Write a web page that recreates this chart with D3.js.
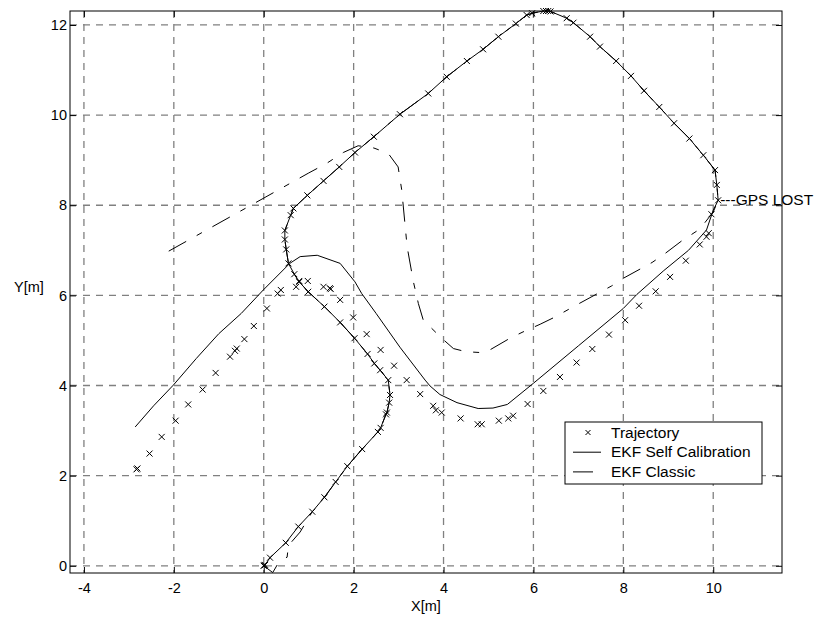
<!DOCTYPE html>
<html>
<head>
<meta charset="utf-8">
<script src="https://cdn.jsdelivr.net/npm/d3@7"></script>
<style>
  body { margin: 0; background: #fff; }
  text { font-family: "Liberation Sans", Arial, sans-serif; }
</style>
</head>
<body>
<div id="chart"></div>
<script>
(() => {

    ////////////////////////////////////
    ////////////// data ////////////////
    ////////////////////////////////////

    // measured positions [x, y] in metres, from the start (0,0) up to the point where GPS is lost
    const trajectoryBefore = [
        [0, 0], [0.01, 0.01], [0.03, 0.02], [0.14, 0.18], [0.49, 0.51], [0.77, 0.87], [1.08, 1.2],
        [1.35, 1.52], [1.6, 1.86], [1.86, 2.21], [2.19, 2.59], [2.54, 2.97], [2.6, 3.06],
        [2.72, 3.36], [2.74, 3.4], [2.79, 3.62], [2.81, 3.79], [2.77, 4.12],
        [2.59, 4.34], [2.46, 4.49], [2.31, 4.7], [2.02, 5.05], [1.7, 5.4], [1.35, 5.75],
        [0.99, 6.08], [0.79, 6.3], [0.68, 6.47], [0.55, 6.71], [0.5, 7.02], [0.47, 7.24],
        [0.47, 7.44], [0.6, 7.78], [0.66, 7.93],
        [0.97, 8.22], [1.33, 8.54], [1.68, 8.85], [2.03, 9.17], [2.45, 9.52], [3.03, 10.02],
        [3.66, 10.48], [4.07, 10.85], [4.52, 11.2], [4.88, 11.46], [5.22, 11.74], [5.61, 12.03],
        [5.85, 12.22], [5.97, 12.26], [6.22, 12.31], [6.28, 12.31], [6.33, 12.31], [6.38, 12.3],
        [6.74, 12.15], [6.89, 12.05], [7.26, 11.74], [7.48, 11.52], [7.84, 11.2], [8.17, 10.87],
        [8.46, 10.54], [8.8, 10.18], [9.13, 9.82], [9.47, 9.48], [9.78, 9.11], [10.04, 8.78],
        [10.08, 8.45], [10.11, 8.11]
    ]

    // measured positions after GPS is lost
    const trajectoryAfter = [
        [9.96, 7.8], [9.9, 7.38], [9.85, 7.3], [9.7, 7.13], [9.39, 6.77], [9.04, 6.41],
        [8.72, 6.09], [8.35, 5.77], [8.04, 5.45], [7.68, 5.13], [7.31, 4.81], [6.96, 4.51],
        [6.59, 4.19], [6.22, 3.88], [5.87, 3.59], [5.55, 3.33], [5.44, 3.27], [5.23, 3.22],
        [4.85, 3.14], [4.76, 3.14], [4.38, 3.27], [3.96, 3.4], [3.83, 3.45], [3.77, 3.55],
        [3.48, 3.81], [3.18, 4.12], [2.9, 4.44], [2.6, 4.79], [2.29, 5.14], [1.99, 5.51],
        [1.7, 5.9], [1.49, 6.14], [1.47, 6.16], [1.33, 6.19], [0.98, 6.32], [0.79, 6.32],
        [0.72, 6.19], [0.38, 6.12], [0.31, 6.04], [0.07, 5.71], [-0.22, 5.32], [-0.43, 5.03],
        [-0.6, 4.82], [-0.64, 4.77], [-0.75, 4.64], [-1.07, 4.28], [-1.36, 3.91], [-1.68, 3.58],
        [-1.96, 3.22], [-2.27, 2.86], [-2.54, 2.49], [-2.83, 2.14], [-2.81, 2.16]
    ]

    // EKF with self calibration, after GPS is lost
    const selfCalAfter = [
        [10.0, 7.89], [9.85, 7.45], [9.45, 7.0], [8.9, 6.55], [8.3, 6.02], [8.0, 5.71],
        [7.0, 4.88], [6.0, 4.05], [5.42, 3.58], [5.1, 3.5], [4.77, 3.49], [4.3, 3.62],
        [3.92, 3.8], [3.7, 3.99], [3.59, 4.12], [3.03, 4.85], [2.5, 5.6], [2.18, 6.04],
        [2.03, 6.3], [1.7, 6.71], [1.19, 6.89], [0.81, 6.86], [0.58, 6.71], [-0.01, 6.12],
        [-0.5, 5.6], [-1.0, 5.15], [-1.5, 4.6], [-2.01, 4.01], [-2.45, 3.55], [-2.86, 3.08]
    ]

    // classic EKF: short wobble at the start, then after GPS is lost
    const classicStart = [
        [0, 0], [0.2, -0.15], [0.36, 0.12], [0.52, 0.19], [0.55, 0.45], [0.81, 0.75]
    ]
    const classicAfter = [
        [10.0, 7.85], [9.7, 7.47], [9.3, 7.21], [8.93, 6.93], [8.64, 6.73], [8.0, 6.38],
        [7.74, 6.21], [6.89, 5.75], [6.48, 5.52], [6.15, 5.36], [5.77, 5.19], [5.48, 5.05],
        [5.03, 4.79], [4.85, 4.73], [4.5, 4.75], [4.22, 4.82], [3.96, 5.05], [3.55, 5.45],
        [3.44, 5.82], [3.33, 6.3], [3.19, 7.08], [3.07, 8.34], [2.99, 8.85], [2.77, 9.15],
        [2.45, 9.27], [2.1, 9.32], [1.77, 9.17], [1.4, 8.93], [0.99, 8.71], [-2.17, 6.95]
    ]

    const xTicks = [-4, -2, 0, 2, 4, 6, 8, 10]
    const yTicks = [0, 2, 4, 6, 8, 10, 12]
    const legendLabels = ['Trajectory', 'EKF Self Calibration', 'EKF Classic']
    const gpsLabel = '---GPS LOST'

    const trajectory = trajectoryBefore.concat(trajectoryAfter)
    const selfCal = trajectoryBefore.concat(selfCalAfter)
    const classic = classicStart.concat(trajectoryBefore.slice(6), classicAfter)
    const gpsLostPoint = trajectoryBefore[trajectoryBefore.length - 1]

    ////////////////////////////////////
    //////////// SVG Setup /////////////
    ////////////////////////////////////

    const svgWidth = 817
    const svgHeight = 617
    const margin = { left: 70, right: 35, top: 11, bottom: 44 }
    const width = svgWidth - margin.left - margin.right
    const height = svgHeight - margin.top - margin.bottom

    const root = d3.select('#chart')
        .append('svg')
        .attr('width', svgWidth)
        .attr('height', svgHeight)

    root.append('rect').attr('width', svgWidth).attr('height', svgHeight).attr('fill', '#fff')

    const svg = root.append('g')
        .attr('transform', 'translate(' + margin.left + ',' + margin.top + ')')

    const fontSize = 14.5
    const labelSize = 15.5
    const gridColor = '#808080'
    const classicDash = '20,12,6,12'

    ////////////////////////////////////
    //////////////scales////////////////
    ////////////////////////////////////

    const x = d3.scaleLinear().domain([-4.31, 11.53]).range([0, width])
    const y = d3.scaleLinear().domain([-0.16, 12.31]).range([height, 0])

    ////////////////////////////////////
    //////////////// grid //////////////
    ////////////////////////////////////

    svg.selectAll('.vgrid')
        .data(xTicks)
        .join('line')
        .attr('class', 'vgrid')
        .attr('x1', d => x(d)).attr('x2', d => x(d))
        .attr('y1', 0).attr('y2', height)
        .attr('stroke', gridColor)
        .attr('stroke-width', 1.3)
        .attr('stroke-dasharray', '7,6')

    svg.selectAll('.hgrid')
        .data(yTicks)
        .join('line')
        .attr('class', 'hgrid')
        .attr('x1', 0).attr('x2', width)
        .attr('y1', d => y(d)).attr('y2', d => y(d))
        .attr('stroke', gridColor)
        .attr('stroke-width', 1.3)
        .attr('stroke-dasharray', '7,6')

    ////////////////////////////////////
    ////////////// lines ///////////////
    ////////////////////////////////////

    const line = d3.line().x(d => x(d[0])).y(d => y(d[1]))

    svg.append('path')
        .datum(selfCal)
        .attr('d', line)
        .attr('fill', 'none')
        .attr('stroke', '#000')
        .attr('stroke-width', 1)

    svg.append('path')
        .datum(classic)
        .attr('d', line)
        .attr('fill', 'none')
        .attr('stroke', '#000')
        .attr('stroke-width', 1)
        .attr('stroke-dasharray', classicDash)

    const cross = 'M-3,-3L3,3M-3,3L3,-3'

    svg.selectAll('.points')
        .data(trajectory)
        .join('path')
        .attr('class', 'points')
        .attr('transform', d => 'translate(' + x(d[0]) + ',' + y(d[1]) + ')')
        .attr('d', cross)
        .attr('stroke', '#000')
        .attr('stroke-width', 1)

    // GPS lost note next to the last point before the outage
    svg.append('text')
        .attr('x', x(gpsLostPoint[0]) + 2)
        .attr('y', y(gpsLostPoint[1]) + 5)
        .attr('font-size', labelSize)
        .text(gpsLabel)

    ////////////////////////////////////
    ///////////////axis/////////////////
    ////////////////////////////////////

    const styleAxis = g => {
        g.select('.domain').remove()
        g.selectAll('text').attr('font-size', fontSize).attr('fill', '#000')
            .attr('font-family', '"Liberation Sans", Arial, sans-serif')
    }

    // plain hyphen for negatives, as in the original figure
    const tickText = d => String(d)

    svg.append('g')
        .attr('transform', 'translate(0,' + height + ')')
        .call(d3.axisBottom(x).tickValues(xTicks).tickSize(-6).tickPadding(10).tickFormat(tickText))
        .call(styleAxis)

    svg.append('g')
        .call(d3.axisTop(x).tickValues(xTicks).tickSize(-6).tickFormat(''))
        .call(styleAxis)

    svg.append('g')
        .call(d3.axisLeft(y).tickValues(yTicks).tickSize(-6).tickPadding(3).tickFormat(tickText))
        .call(styleAxis)

    svg.append('g')
        .attr('transform', 'translate(' + width + ',0)')
        .call(d3.axisRight(y).tickValues(yTicks).tickSize(-6).tickFormat(''))
        .call(styleAxis)

    svg.append('rect')
        .attr('width', width)
        .attr('height', height)
        .attr('fill', 'none')
        .attr('stroke', '#000')
        .attr('stroke-width', 1)

    svg.append('text')
        .attr('x', width / 2)
        .attr('y', height + 38)
        .attr('text-anchor', 'middle')
        .attr('font-size', fontSize)
        .text('X[m]')

    svg.append('text')
        .attr('x', -41)
        .attr('y', 281)
        .attr('text-anchor', 'middle')
        .attr('font-size', fontSize)
        .text('Y[m]')

    ////////////////////////////////////
    ////////////// legend //////////////
    ////////////////////////////////////

    const legend = svg.append('g')
        .attr('transform', 'translate(495,411)')

    legend.append('rect')
        .attr('width', 197)
        .attr('height', 62)
        .attr('fill', '#fff')
        .attr('stroke', '#000')
        .attr('stroke-width', 1)

    const rowY = i => 10.5 + i * 19.7

    legend.selectAll('.label')
        .data(legendLabels)
        .join('text')
        .attr('class', 'label')
        .attr('x', 46)
        .attr('y', (d, i) => rowY(i) + 5)
        .attr('font-size', labelSize)
        .text(d => d)

    legend.append('path')
        .attr('transform', 'translate(23,' + rowY(0) + ')')
        .attr('d', 'M-2.5,-2.5L2.5,2.5M-2.5,2.5L2.5,-2.5')
        .attr('stroke', '#000')

    legend.append('line')
        .attr('x1', 8).attr('x2', 36)
        .attr('y1', rowY(1)).attr('y2', rowY(1))
        .attr('stroke', '#000')

    legend.append('line')
        .attr('x1', 8).attr('x2', 36)
        .attr('y1', rowY(2)).attr('y2', rowY(2))
        .attr('stroke', '#000')
        .attr('stroke-dasharray', classicDash)

})()
</script>
</body>
</html>
